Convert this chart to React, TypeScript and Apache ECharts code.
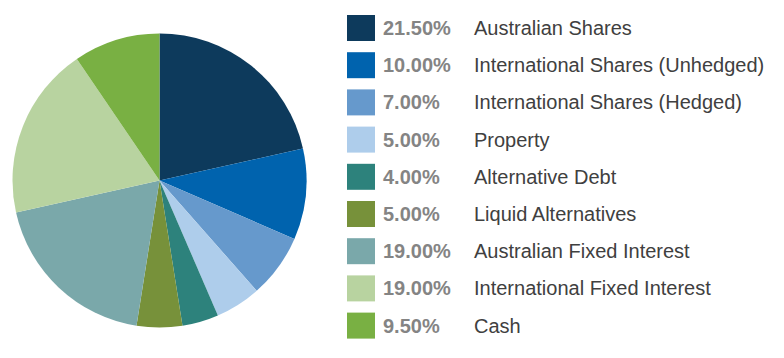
import React, { useEffect, useRef } from "react";
import * as echarts from "echarts";

const categories = [
  "Australian Shares",
  "International Shares (Unhedged)",
  "International Shares (Hedged)",
  "Property",
  "Alternative Debt",
  "Liquid Alternatives",
  "Australian Fixed Interest",
  "International Fixed Interest",
  "Cash",
];
const values = [21.5, 10, 7, 5, 4, 5, 19, 19, 9.5];
const colors = [
  "#0d3a5c",
  "#0063ae",
  "#6699cc",
  "#aecdeb",
  "#2d827c",
  "#77913a",
  "#7aa8aa",
  "#b8d3a0",
  "#79b043",
];

export default function App() {
  const ref = useRef<HTMLDivElement>(null);
  useEffect(() => {
    if (!ref.current) return;
    const chart = echarts.init(ref.current, null, { renderer: "svg" });
    const valueOf: Record<string, number> = {};
    categories.forEach((c, i) => (valueOf[c] = values[i]));
    chart.setOption({
      animation: false,
      color: colors,
      legend: {
        orient: "vertical",
        left: 342,
        top: 10,
        itemWidth: 28,
        itemHeight: 26,
        itemGap: 11.2,
        icon: "rect",
        selectedMode: false,
        data: categories,
        formatter: (name: string) =>
          `{p|${valueOf[name].toFixed(2)}%}{n|${name}}`,
        textStyle: {
          rich: {
            p: {
              fontFamily: "Liberation Sans, Arial, sans-serif",
              fontSize: 20,
              fontWeight: "bold",
              color: "#848484",
              width: 91,
              padding: [0, 0, 0, 3],
            },
            n: {
              fontFamily: "Liberation Sans, Arial, sans-serif",
              fontSize: 20,
              color: "#404040",
            },
          },
        },
      },
      series: [
        {
          type: "pie",
          center: [159.5, 180.5],
          radius: 147,
          startAngle: 90,
          clockwise: true,
          label: { show: false },
          labelLine: { show: false },
          emphasis: { disabled: true },
          itemStyle: { borderWidth: 0 },
          data: categories.map((c, i) => ({ name: c, value: values[i] })),
        },
      ],
    });
    return () => chart.dispose();
  }, []);
  return <div ref={ref} style={{ width: 784, height: 358, position: "absolute", left: 0, top: 0 }} />;
}
